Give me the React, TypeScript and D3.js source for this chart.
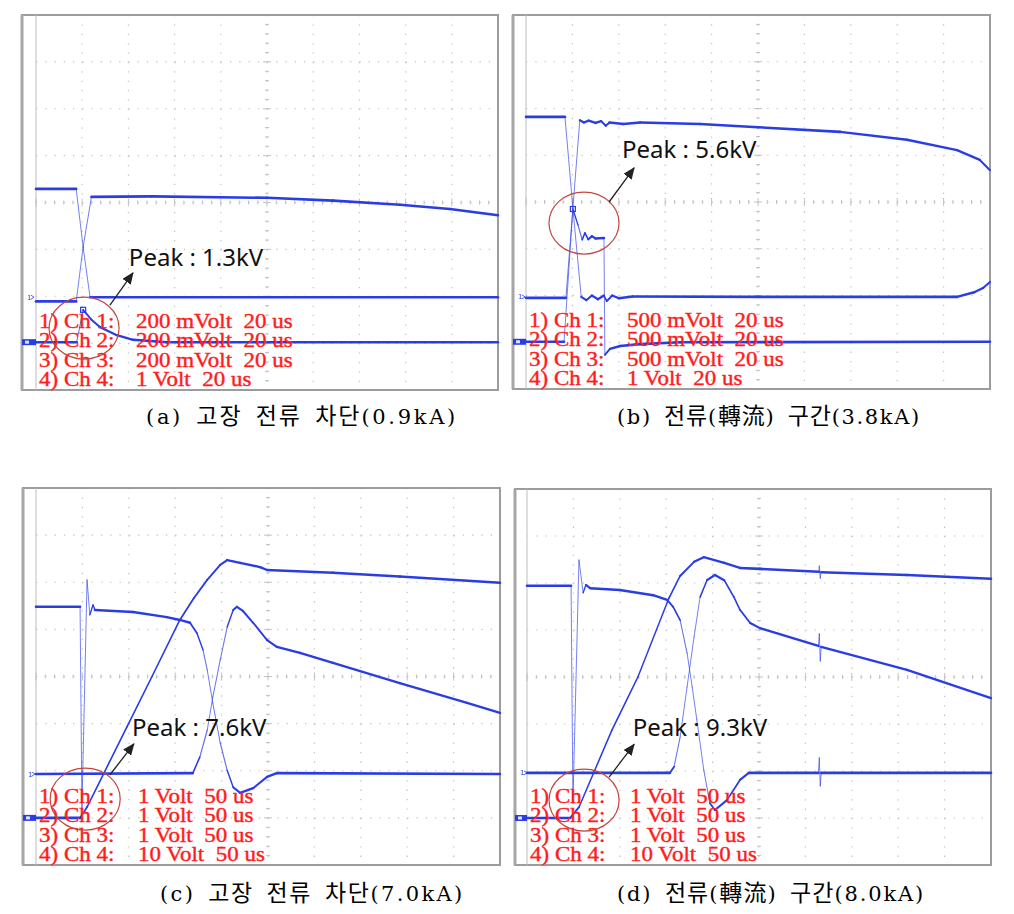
import React from "react";
import * as d3 from "d3";

type Pt = [number, number];

// ---- Trace values, in scope divisions: x 0..10, y -4..4 (0 = centre line) ----
// (a) fault current interruption 0.9 kA
const A_CH1: Pt[] = [[0, 0.29], [0.87, 0.29], [1.02, -0.95], [1.17, -2.02], [10, -2.02]];
const A_CH2: Pt[] = [[0, -2.11], [0.87, -2.11], [1.02, -0.95], [1.2, 0.12], [2.5, 0.13], [5, 0.1], [6.43, 0.04], [7.88, -0.05], [8.96, -0.14], [10, -0.27]];
const A_CH3: Pt[] = [[0, -2.98], [0.88, -2.98], [1.02, -2.29], [1.2, -2.5], [1.39, -2.66], [1.75, -2.83], [2.1, -2.93], [2.84, -2.98], [10, -2.98]];

// (b) commutation interval 3.8 kA
const B_CH1: Pt[] = [[0, 1.82], [0.84, 1.82], [1.01, -0.13], [1.19, -2.03], [1.3, -2.1], [1.42, -2.0], [1.55, -2.08], [1.68, -2.0], [1.74, -2.12], [1.86, -2.0], [2.0, -2.06], [2.3, -2.02], [5, -2.03], [9.29, -2.03], [9.66, -1.93], [9.85, -1.84], [10, -1.71]];
const B_CH2: Pt[] = [[0, -2.05], [0.86, -2.05], [1.01, -0.13], [1.16, 1.75], [1.25, 1.7], [1.35, 1.74], [1.5, 1.69], [1.62, 1.73], [1.72, 1.63], [1.8, 1.7], [2.1, 1.67], [2.46, 1.7], [3.75, 1.67], [5, 1.6], [6.77, 1.5], [8.21, 1.33], [9.29, 1.11], [9.78, 0.9], [10, 0.68]];
const B_CH3: Pt[] = [[0, -2.99], [0.82, -2.99], [1.01, -0.15], [1.12, -0.49], [1.21, -0.81], [1.27, -0.66], [1.34, -0.8], [1.42, -0.73], [1.5, -0.78], [1.68, -0.77], [1.7, -3.27], [1.81, -3.14], [2.03, -3.08], [2.46, -3.04], [3.32, -3.0], [10, -2.99]];

// (c) fault current interruption 7.0 kA
const C_CHA: Pt[] = [[0, 1.48], [0.95, 1.48], [0.99, -2.83], [1.1, 2.05], [1.16, 1.31], [1.23, 1.52], [1.27, 1.41], [2.09, 1.37], [2.82, 1.26], [3.1, 1.2], [3.32, 1.14], [3.47, 0.92], [3.6, 0.56], [3.69, 0.14], [3.81, -0.56], [3.97, -1.41], [4.12, -1.99], [4.25, -2.35], [4.4, -2.47], [4.68, -2.37], [4.98, -2.13], [5.19, -2.05], [10, -2.07]];
const C_CHB: Pt[] = [[0, -3.0], [0.95, -3.0], [1.03, -2.88], [1.1, -2.77], [1.96, -1.07], [2.5, 0], [3.1, 1.2], [3.4, 1.66], [3.69, 2.05], [3.97, 2.37], [4.12, 2.47], [4.4, 2.41], [4.83, 2.32], [4.98, 2.26], [6.4, 2.2], [7.84, 2.12], [10, 1.99]];
const C_CHC: Pt[] = [[0, -2.07], [3.38, -2.05], [3.53, -1.71], [3.69, -1.14], [3.81, -0.44], [3.97, 0.35], [4.12, 1.05], [4.25, 1.41], [4.33, 1.48], [4.46, 1.39], [4.68, 1.14], [4.98, 0.77], [5.19, 0.63], [5.69, 0.5], [6.4, 0.29], [7.84, -0.14], [9.29, -0.56], [10, -0.77]];

// (d) commutation interval 8.0 kA
const D_CHA: Pt[] = [[0, 1.94], [0.95, 1.94], [0.99, -2.68], [1.12, 2.49], [1.21, 1.79], [1.27, 1.96], [1.36, 1.89], [2.0, 1.85], [2.72, 1.74], [3.02, 1.64], [3.15, 1.49], [3.3, 1.21], [3.45, 0.51], [3.56, -0.21], [3.66, -0.91], [3.81, -1.98], [3.94, -2.68], [4.05, -2.83], [4.31, -2.62], [4.59, -2.19], [4.78, -2.04], [6.28, -2.04], [6.3, -1.72], [6.32, -2.32], [6.34, -2.04], [10, -2.04]];
const D_CHB: Pt[] = [[0, -3.0], [0.93, -3.0], [1.12, -2.77], [1.83, -1.13], [2.39, 0], [3.06, 1.68], [3.3, 2.15], [3.6, 2.45], [3.81, 2.55], [4.25, 2.43], [4.59, 2.32], [5.02, 2.3], [6.29, 2.24], [6.3, 2.36], [6.32, 2.1], [6.34, 2.23], [8.19, 2.17], [10, 2.09]];
const D_CHC: Pt[] = [[0, -2.04], [3.08, -2.04], [3.17, -1.91], [3.3, -1.28], [3.45, -0.21], [3.6, 0.85], [3.73, 1.7], [3.88, 2.06], [4.05, 2.17], [4.25, 2.06], [4.46, 1.7], [4.59, 1.43], [4.81, 1.15], [5.02, 1.04], [6.28, 0.66], [6.3, 0.92], [6.32, 0.34], [6.34, 0.64], [8.19, 0.15], [10, -0.45]];

// peak markers (a),(b)
const A_PEAK: Pt = [1.02, -2.29];
const B_PEAK: Pt = [1.01, -0.15];

// channel ground reference levels (divisions)
const GROUND_CH1 = [-2.02, -2.03, -2.07, -2.04];
const GROUND_BLOCK = [-2.98, -2.99, -3.0, -3.0];

// ---- Texts ----
const LEGEND_LABELS = ["1) Ch 1:", "2) Ch 2:", "3) Ch 3:", "4) Ch 4:"];
const A_LEGEND = ["200 mVolt  20 us", "200 mVolt  20 us", "200 mVolt  20 us", "1 Volt  20 us"];
const B_LEGEND = ["500 mVolt  20 us", "500 mVolt  20 us", "500 mVolt  20 us", "1 Volt  20 us"];
const C_LEGEND = ["1 Volt  50 us", "1 Volt  50 us", "1 Volt  50 us", "10 Volt  50 us"];
const D_LEGEND = ["1 Volt  50 us", "1 Volt  50 us", "1 Volt  50 us", "10 Volt  50 us"];
const CAPTIONS = ["(a) 고장 전류 차단(0.9kA)", "(b) 전류(轉流) 구간(3.8kA)", "(c) 고장 전류 차단(7.0kA)", "(d) 전류(轉流) 구간(8.0kA)"];
const PEAK_LABELS = ["Peak : 1.3kV", "Peak : 5.6kV", "Peak : 7.6kV", "Peak : 9.3kV"];

// annotation anchors (divisions): ellipse centre, label, arrow start, arrow end
const NOTE_CIRCLE: Pt[] = [[1.04, -2.68], [1.25, -0.45], [1.06, -2.6], [1.23, -2.62]];
const NOTE_TEXT: Pt[] = [[2.01, -1.35], [2.07, 0.94], [2.07, -1.26], [2.28, -1.26]];
const NOTE_FROM: Pt[] = [[1.6, -2.19], [1.79, 0.0], [1.59, -2.09], [1.77, -2.13]];
const NOTE_TO: Pt[] = [[2.1, -1.5], [2.33, 0.73], [2.11, -1.43], [2.31, -1.43]];

const TRACE = "#2a3de4";
const GRID = "#c2c2c2";
const LEGEND_RED = "#ff1c1c";

type Layout = { frameLeft: number; x0: number; x1: number; y0: number; y1: number; legendDx: number; cap: { x: number; y: number; w: number } };

const LAYOUTS: Layout[] = [
  { frameLeft: 21, x0: 36, x1: 498, y0: 15, y1: 390, legendDx: 100, cap: { x: 146, y: 424, w: 310 } },
  { frameLeft: 512, x0: 526, x1: 990, y0: 15, y1: 389, legendDx: 101, cap: { x: 617, y: 424, w: 303 } },
  { frameLeft: 22, x0: 36, x1: 500, y0: 488, y1: 865, legendDx: 102, cap: { x: 160, y: 901, w: 303 } },
  { frameLeft: 514, x0: 527, x1: 991, y0: 489, y1: 865, legendDx: 103, cap: { x: 617, y: 901, w: 307 } },
];

function Trace({ pts, x, y }: { pts: Pt[]; x: d3.ScaleLinear<number, number>; y: d3.ScaleLinear<number, number> }) {
  const segs: React.ReactNode[] = [];
  for (let i = 0; i < pts.length - 1; i++) {
    const ax = x(pts[i][0]), ay = y(pts[i][1]);
    const bx = x(pts[i + 1][0]), by = y(pts[i + 1][1]);
    const s = Math.abs(by - ay) / Math.max(Math.abs(bx - ax), 0.01);
    const w = Math.max(0.9, 2.6 / (1 + 0.3 * s));
    segs.push(
      <line key={i} x1={ax} y1={ay} x2={bx} y2={by} stroke={TRACE} strokeWidth={w}
        strokeOpacity={w < 1.3 ? 0.72 : 1} strokeLinecap="round" />
    );
  }
  return <g>{segs}</g>;
}

function Grid({ L }: { L: Layout }) {
  const dX = (L.x1 - L.x0) / 10;
  const dY = (L.y1 - L.y0) / 8;
  const items: React.ReactNode[] = [];
  d3.range(1, 10).forEach((i) => {
    const X = L.x0 + i * dX;
    items.push(<line key={"v" + i} x1={X} x2={X} y1={L.y0} y2={L.y1} stroke={GRID} strokeWidth={1.2}
      strokeDasharray={`1.3 ${dY / 5 - 1.3}`} />);
  });
  d3.range(1, 8).forEach((j) => {
    const Y = L.y0 + j * dY;
    items.push(<line key={"h" + j} x1={L.x0} x2={L.x1} y1={Y} y2={Y} stroke={GRID} strokeWidth={1.2}
      strokeDasharray={`1.3 ${dX / 5 - 1.3}`} />);
  });
  const cx = L.x0 + 5 * dX, cy = L.y0 + 4 * dY;
  d3.range(0, 41).forEach((k) => {
    const Y = L.y0 + (k * dY) / 5;
    const len = k % 5 === 0 ? 4 : 2;
    items.push(<line key={"tv" + k} x1={cx - len} x2={cx + len} y1={Y} y2={Y} stroke={GRID} strokeWidth={1} />);
  });
  d3.range(0, 51).forEach((k) => {
    const X = L.x0 + (k * dX) / 5;
    const len = k % 5 === 0 ? 4 : 2;
    items.push(<line key={"th" + k} x1={X} x2={X} y1={cy - len} y2={cy + len} stroke={GRID} strokeWidth={1} />);
  });
  return <g>{items}</g>;
}

const CJK_RUN = /[\u3131-\uD7A3\u4E00-\u9FFF]+/g;
function captionRuns(s: string) {
  const runs: { t: string; cjk: boolean }[] = [];
  let last = 0;
  s.replace(CJK_RUN, (m: string, off: number) => {
    if (off > last) runs.push({ t: s.slice(last, off), cjk: false });
    runs.push({ t: m, cjk: true });
    last = off + m.length;
    return m;
  });
  if (last < s.length) runs.push({ t: s.slice(last), cjk: false });
  return runs;
}

function Caption({ idx }: { idx: number }) {
  const L = LAYOUTS[idx];
  const runs = captionRuns(CAPTIONS[idx]);
  return (
    <text x={L.cap.x} y={L.cap.y} fontSize={21} fill="#000" wordSpacing={4} xmlSpace="preserve"
      textLength={L.cap.w} lengthAdjust="spacing">
      {runs.map((r, i) =>
        r.cjk ? (
          <tspan key={i} fontFamily="'Noto Sans CJK KR', sans-serif" fontSize={23}>{r.t}</tspan>
        ) : (
          <tspan key={i} fontFamily="'DejaVu Serif', 'Liberation Serif', serif" letterSpacing={0.8}>{r.t}</tspan>
        )
      )}
    </text>
  );
}

function Panel({ idx, series, legend, peak }: { idx: number; series: Pt[][]; legend: string[]; peak?: Pt }) {
  const L = LAYOUTS[idx];
  const x = d3.scaleLinear().domain([0, 10]).range([L.x0, L.x1]);
  const y = d3.scaleLinear().domain([-4, 4]).range([L.y1, L.y0]);
  const gy = y(GROUND_CH1[idx]);
  const by = y(GROUND_BLOCK[idx]);
  const c = NOTE_CIRCLE[idx], t = NOTE_TEXT[idx], f = NOTE_FROM[idx], to = NOTE_TO[idx];
  return (
    <g>
      <rect x={L.frameLeft} y={L.y0} width={L.x1 - L.frameLeft} height={L.y1 - L.y0} fill="#fff" />
      <Grid L={L} />
      <line x1={L.frameLeft} x2={L.x1 + 1} y1={L.y0} y2={L.y0} stroke="#9c9c9c" strokeWidth={2} />
      <line x1={L.frameLeft} x2={L.x1 + 1} y1={L.y1} y2={L.y1} stroke="#9c9c9c" strokeWidth={2} />
      <line x1={L.x1} x2={L.x1} y1={L.y0} y2={L.y1} stroke="#9c9c9c" strokeWidth={2} />
      <line x1={L.frameLeft + 1} x2={L.frameLeft + 1} y1={L.y0} y2={L.y1} stroke="#a6a6a6" strokeWidth={3} />
      <line x1={L.x0} x2={L.x0} y1={L.y0} y2={L.y1} stroke="#bdbdbd" strokeWidth={1} />
      <text x={L.frameLeft + 6} y={gy + 2.5} fontSize={7} fill={TRACE} fontFamily="DejaVu Sans">1</text>
      <path d={`M${L.frameLeft + 10},${gy - 2} L${L.frameLeft + 13},${gy} L${L.frameLeft + 10},${gy + 2}`} fill="none" stroke={TRACE} strokeWidth={0.8} />
      <rect x={L.frameLeft + 1} y={by - 3} width={L.x0 - L.frameLeft - 1} height={6} fill={TRACE} />
      <rect x={L.frameLeft + 4} y={by - 1.5} width={4} height={3} fill="#dfe3ff" />
      {series.map((s, i) => <Trace key={i} pts={s} x={x} y={y} />)}
      {peak && <rect x={x(peak[0]) - 2.5} y={y(peak[1]) - 2.5} width={5} height={5} fill="none" stroke={TRACE} strokeWidth={1.2} />}
      {LEGEND_LABELS.map((lab, i) => {
        const Y = L.y1 - 62 + 19.4 * i;
        return (
          <g key={i} fill={LEGEND_RED} stroke={LEGEND_RED} strokeWidth={0.4}
            fontFamily="'Liberation Serif', 'DejaVu Serif', serif" fontSize={21.5}>
            <text transform={`translate(${L.x0 + 3},${Y}) scale(1.07,1)`} xmlSpace="preserve">{lab}</text>
            <text transform={`translate(${L.x0 + L.legendDx},${Y}) scale(1.07,1)`} xmlSpace="preserve">{legend[i]}</text>
          </g>
        );
      })}
      <ellipse cx={x(c[0])} cy={y(c[1])} rx={35} ry={31} fill="none" stroke="#c4463f" strokeWidth={1.2} />
      <line x1={x(f[0])} y1={y(f[1])} x2={x(to[0])} y2={y(to[1])} stroke="#222" strokeWidth={1.3} markerEnd="url(#arrowHead)" />
      <text x={x(t[0])} y={y(t[1])} fontSize={24} fontFamily="'Noto Sans', 'Open Sans', sans-serif" fill="#111" xmlSpace="preserve">{PEAK_LABELS[idx]}</text>
      <Caption idx={idx} />
    </g>
  );
}

export default function App() {
  return (
    <svg width={1014} height={914} viewBox="0 0 1014 914" style={{ position: "absolute", left: 0, top: 0, background: "#fff" }}>
      <defs>
        <marker id="arrowHead" viewBox="0 0 12 10" refX={11} refY={5} markerWidth={12} markerHeight={10}
          markerUnits="userSpaceOnUse" orient="auto">
          <path d="M0,0 L12,5 L0,10 z" fill="#222" />
        </marker>
      </defs>
      <rect width={1014} height={914} fill="#fff" />
      <Panel idx={0} series={[A_CH1, A_CH2, A_CH3]} legend={A_LEGEND} peak={A_PEAK} />
      <Panel idx={1} series={[B_CH1, B_CH2, B_CH3]} legend={B_LEGEND} peak={B_PEAK} />
      <Panel idx={2} series={[C_CHA, C_CHB, C_CHC]} legend={C_LEGEND} />
      <Panel idx={3} series={[D_CHA, D_CHB, D_CHC]} legend={D_LEGEND} />
    </svg>
  );
}
